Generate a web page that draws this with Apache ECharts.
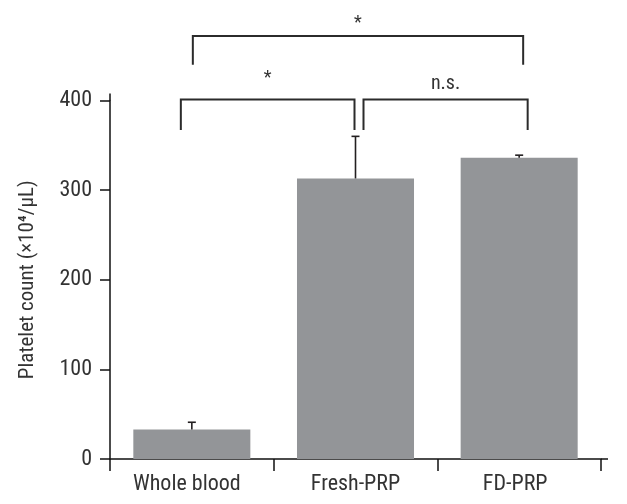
<!DOCTYPE html>
<html>
<head>
<meta charset="utf-8">
<script src="https://cdn.jsdelivr.net/npm/echarts@6/dist/echarts.min.js"></script>
<style>
html,body{margin:0;padding:0;background:#fff;}
#chart{width:627px;height:504px;}
</style>
</head>
<body>
<div id="chart"></div>
<script>
var categories = ['Whole blood', 'Fresh-PRP', 'FD-PRP'];
var meanValues = [33, 313, 336];
var errorUpper = [41, 360, 339];
var yTicks = [0, 100, 200, 300, 400];
// significance brackets: [fromCategory, toCategory, level, legBottom, label]
var brackets = [
  [0, 1, 401, 367, '*'],
  [1, 2, 401, 367, 'n.s.'],
  [0, 2, 472, 440, '*']
];
// horizontal pixel nudges for brackets (start, end) and label offset
var bracketNudge = [[-11, -1, -21], [8, 8.5, -6], [1, 4, -12]];
// small label nudges (right padding) to match reference label placement
var labelPad = [10, 0, 8];

var FONT = "'Liberation Sans Narrow', 'Roboto Condensed', 'DejaVu Sans Condensed', sans-serif";
var TXT = '#333333';

var chart = echarts.init(document.getElementById('chart'), null, {renderer: 'canvas'});
chart.setOption({
  animation: false,
  backgroundColor: '#fff',
  grid: {left: 110, right: 26, top: 100.5, bottom: 45, containLabel: false},
  xAxis: {
    type: 'category',
    data: categories.map(function (c, i) {
      return {value: c, textStyle: {padding: [0, labelPad[i], 0, 0]}};
    }),
    axisLine: {lineStyle: {color: '#111', width: 1.5}},
    axisTick: {show: true, alignWithLabel: false, length: 12, lineStyle: {color: '#111', width: 1.5}},
    axisLabel: {color: TXT, fontSize: 22, fontFamily: FONT, margin: 14}
  },
  yAxis: {
    type: 'value',
    min: yTicks[0],
    max: yTicks[yTicks.length - 1],
    interval: 100,
    name: 'Platelet count (×10⁴/μL)',
    nameLocation: 'middle',
    nameGap: 72,
    nameTextStyle: {color: TXT, fontSize: 21, fontFamily: FONT},
    splitLine: {show: false},
    axisLine: {show: true, lineStyle: {color: '#111', width: 1.5}},
    axisTick: {show: true, length: 10, lineStyle: {color: '#111', width: 1.5}},
    axisLabel: {color: TXT, fontSize: 22, fontFamily: FONT, margin: 18}
  },
  series: [
    {
      type: 'bar',
      data: meanValues,
      barWidth: '71.5%',
      itemStyle: {color: '#939598'},
      z: 2
    },
    {
      type: 'custom',
      z: 3,
      clip: false,
      data: meanValues.map(function (v, i) { return [i, v, errorUpper[i]]; }),
      encode: {x: 0, y: [1, 2]},
      renderItem: function (params, api) {
        var i = api.value(0);
        var p0 = api.coord([i, api.value(1)]);
        var p1 = api.coord([i, api.value(2)]);
        var half = 4;
        var style = {stroke: '#231f20', lineWidth: 1.6, fill: null};
        return {
          type: 'group',
          children: [
            {type: 'line', shape: {x1: p0[0], y1: p0[1], x2: p1[0], y2: p1[1]}, style: style},
            {type: 'line', shape: {x1: p1[0] - half, y1: p1[1], x2: p1[0] + half, y2: p1[1]}, style: style}
          ]
        };
      }
    },
    {
      type: 'custom',
      z: 4,
      clip: false,
      silent: true,
      data: brackets.map(function (b, k) { return [b[0], b[1], b[2], b[3], k]; }),
      renderItem: function (params, api) {
        var k = api.value(4);
        var b = brackets[k];
        var nud = bracketNudge[k];
        var a = api.coord([b[0], b[2]]);
        var c = api.coord([b[1], b[2]]);
        var low = api.coord([b[0], b[3]]);
        var x1 = a[0] + nud[0], x2 = c[0] + nud[1];
        var y = a[1], yl = low[1];
        var style = {stroke: '#2b2b2b', lineWidth: 2, fill: null};
        var isStar = b[4] === '*';
        return {
          type: 'group',
          children: [
            {type: 'polyline', shape: {points: [[x1, yl], [x1, y], [x2, y], [x2, yl]]}, style: style},
            {type: 'text', style: {
              text: b[4], x: (x1 + x2) / 2, y: y + nud[2],
              textAlign: 'center', textVerticalAlign: isStar ? 'middle' : 'bottom',
              fill: TXT, fontSize: isStar ? 18 : 20, fontFamily: FONT
            }}
          ]
        };
      }
    }
  ]
});

// slight axis-line overhang as in the reference
var g = chart.getModel().getComponent('grid', 0).coordinateSystem.getRect();
chart.setOption({
  graphic: [
    {type: 'line', shape: {x1: g.x, y1: g.y - 7, x2: g.x, y2: g.y}, style: {stroke: '#111', lineWidth: 1.5}},
    {type: 'line', shape: {x1: g.x + g.width, y1: g.y + g.height, x2: g.x + g.width + 7, y2: g.y + g.height}, style: {stroke: '#111', lineWidth: 1.5}}
  ]
});
</script>
</body>
</html>
